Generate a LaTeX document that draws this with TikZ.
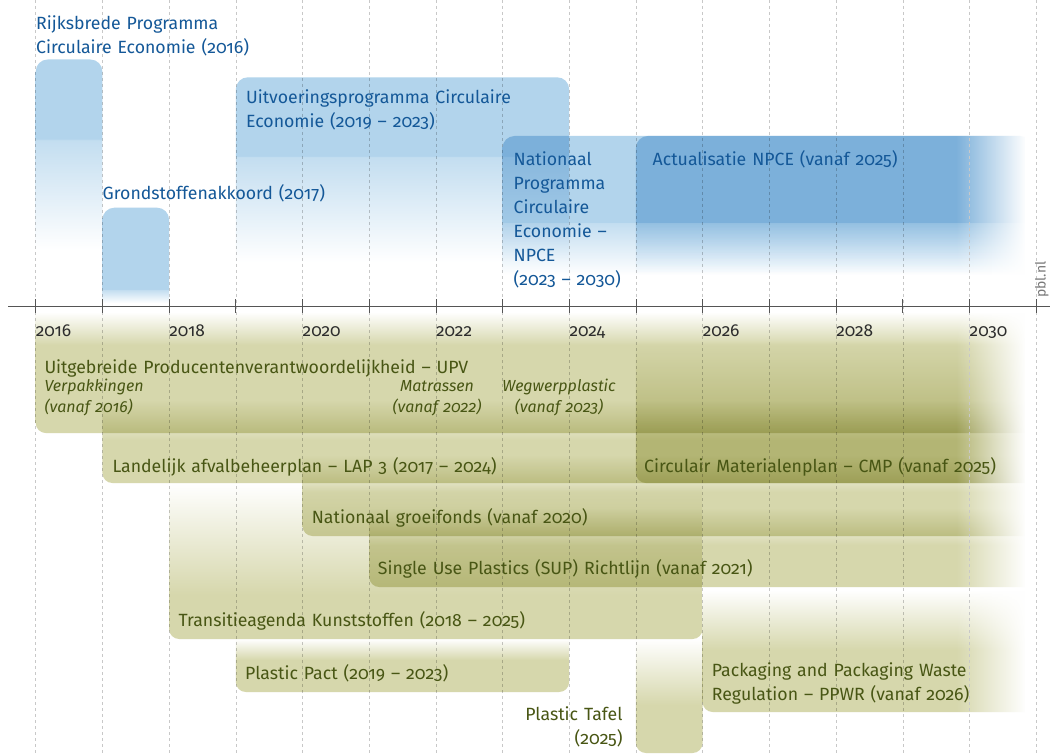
\documentclass[tikz,border=0pt]{standalone}
\usepackage{fontspec}
\setmainfont{Fira Sans}[Numbers=OldStyle]
\usetikzlibrary{fadings}
\tikzfading[name=fadeL, left color=transparent!100, right color=transparent!0]
\definecolor{bluefill}{RGB}{178,212,236}
\definecolor{bluetext}{RGB}{20,88,152}
\definecolor{greenfill}{RGB}{214,215,172}
\definecolor{greentext}{RGB}{72,86,20}
\definecolor{gridgrey}{RGB}{200,200,200}
\definecolor{axisgrey}{RGB}{85,85,85}
\definecolor{yeargrey}{RGB}{45,45,45}
\definecolor{pblgrey}{RGB}{120,120,120}

% green bar running on to the right: name, x1, ytop, ysolid, ybottom
\newcommand\GBarF[5]{%
  \pgfmathsetmacro\stopA{25+50*(#5-#4)/(#5-#3)}%
  \edef\tmpdecl{\noexpand\pgfdeclareverticalshading{#1}{100bp}{color(0bp)=(greenfill); color(\stopA bp)=(greenfill); color(75bp)=(white); color(100bp)=(white)}}\tmpdecl
  \shade[shading=#1, blend mode=multiply] (#2,#3) -- (1032,#3) -- (1032,#5) -- ({#2+10},#5)
     .. controls ({#2+4.5},#5) and (#2,{#5-4.5}) .. (#2,{#5-10}) -- cycle;
}
% green bar with an end: name, x1, x2, ytop, ysolid, ybottom
\newcommand\GBarE[6]{%
  \pgfmathsetmacro\stopA{25+50*(#6-#5)/(#6-#4)}%
  \edef\tmpdecl{\noexpand\pgfdeclareverticalshading{#1}{100bp}{color(0bp)=(greenfill); color(\stopA bp)=(greenfill); color(75bp)=(white); color(100bp)=(white)}}\tmpdecl
  \shade[shading=#1, blend mode=multiply] (#2,#4) -- (#3,#4) -- (#3,{#6-10})
     .. controls (#3,{#6-4.5}) and ({#3-4.5},#6) .. ({#3-10},#6)
     -- ({#2+10},#6) .. controls ({#2+4.5},#6) and (#2,{#6-4.5}) .. (#2,{#6-10}) -- cycle;
}
% blue box: name, x1, x2, ytop, ysolid, yend
\newcommand\BBox[6]{%
  \pgfmathsetmacro\stopA{25+50*(#6-#5)/(#6-#4)}%
  \pgfmathsetmacro\stopB{\stopA+0.3}%
  \edef\tmpdecl{\noexpand\pgfdeclareverticalshading{#1}{100bp}{color(0bp)=(white); color(25bp)=(white); color(\stopA bp)=(bluefill!78!white); color(\stopB bp)=(bluefill); color(100bp)=(bluefill)}}\tmpdecl
  \shade[shading=#1, blend mode=multiply] (#2,#6) -- (#2,{#4+12}) .. controls (#2,{#4+5.4}) and ({#2+5.4},#4) .. ({#2+12},#4)
     -- ({#3-12},#4) .. controls ({#3-5.4},#4) and (#3,{#4+5.4}) .. (#3,{#4+12}) -- (#3,#6) -- cycle;
}

\begin{document}
\begin{tikzpicture}[x=1pt,y=-1pt,
  gridline/.style={draw=gridgrey, line width=0.6pt, dash pattern=on 3pt off 3pt},
  axisline/.style={draw=axisgrey, line width=1pt},
  axistick/.style={draw=axisgrey, line width=0.8pt},
  yearlabel/.style={font=\fontsize{17.3}{20}\selectfont, text=yeargrey, inner sep=0, anchor=base west},
  btext/.style={font=\fontsize{17.7}{24}\selectfont, text=bluetext, inner sep=0, anchor=base west, align=left, text width=360pt},
  gtext/.style={font=\fontsize{17.7}{24}\selectfont, text=greentext, inner sep=0, anchor=base west, align=left, text width=460pt},
  gital/.style={font=\fontsize{16}{21}\selectfont\itshape, text=greentext, inner sep=0, text width=150pt},
]
\useasboundingbox (0,0) rectangle (1050,754);
\fill[white] (0,0) rectangle (1050,754);

% grid
\foreach \k in {0,...,15}
  \draw[gridline] ({35.7+66.7*\k},0) -- ({35.7+66.7*\k},754);

% blue programmes
\BBox{bRijks}{35.7}{102.4}{59.5}{140}{250}
\BBox{bGrond}{102.4}{169.1}{207.7}{290}{303}
\BBox{bUitv}{235.8}{569.2}{77.3}{157}{262}
\BBox{bNpce}{502.5}{1032}{136}{223}{275}
\BBox{bActu}{635.9}{1032}{136}{223}{275}

% green instruments
\GBarF{gUpv}{35.7}{312}{345}{433}
\GBarF{gLap}{102.4}{400}{440}{483}
\GBarF{gCmp}{635.9}{340}{433}{483}
\GBarF{gGroei}{302.5}{455}{492}{536}
\GBarF{gSup}{369.2}{508}{545}{587}
\GBarE{gTrans}{169.1}{702.6}{483}{595}{639}
\GBarE{gPact}{235.8}{569.2}{639}{660}{692}
\GBarF{gPpwr}{702.6}{590}{650}{712}
\GBarE{gTafel}{635.9}{702.6}{639}{705}{753}

% fade-out towards the right edge
\fill[white, path fading=fadeL] (956,120) rectangle (1026,754);
\fill[white] (1025,120) rectangle (1050,754);
\foreach \k in {14,15}
  \draw[gridline] ({35.7+66.7*\k},0) -- ({35.7+66.7*\k},754);

% axis
\draw[axisline] (8,306) -- (1050,306);
\foreach \k in {0,...,15}
  \draw[axistick] ({35.7+66.7*\k},299) -- ({35.7+66.7*\k},313);
\foreach \k/\yr in {0/2016,2/2018,4/2020,6/2022,8/2024,10/2026,12/2028,14/2030}
  \node[yearlabel] (y\yr) at ({35.7+66.7*\k},336) {\yr};

% blue labels
\node[btext] (rijks) at (36,30) {Rijksbrede Programma\\Circulaire Economie (2016)};
\node[btext] (grond) at (102.5,199.5) {Grondstoffenakkoord (2017)};
\node[btext] (uitv) at (246,103.3) {Uitvoeringsprogramma Circulaire\\Economie (2019 -- 2023)};
\node[btext] (npce) at (513.5,165.5) {Nationaal\\Programma\\Circulaire\\Economie --\\NPCE\\(2023 -- 2030)};
\node[btext] (actual) at (652.5,165.5) {Actualisatie NPCE (vanaf 2025)};

% green labels
\node[gtext] (upv) at (44.3,373) {Uitgebreide Producentenverantwoordelijkheid -- UPV};
\node[gital, anchor=base west, align=left] (verp) at (44.3,391.5) {Verpakkingen\\(vanaf 2016)};
\node[gital, anchor=base, align=center] (matr) at (437,391.5) {Matrassen\\(vanaf 2022)};
\node[gital, anchor=base, align=center] (wegw) at (559,391.5) {Wegwerpplastic\\(vanaf 2023)};
\node[gtext] (lap) at (112.3,472) {Landelijk afvalbeheerplan -- LAP 3 (2017 -- 2024)};
\node[gtext] (cmp) at (644,472) {Circulair Materialenplan -- CMP (vanaf 2025)};
\node[gtext] (groei) at (311.7,523) {Nationaal groeifonds (vanaf 2020)};
\node[gtext] (sup) at (377.7,574) {Single Use Plastics (SUP) Richtlijn (vanaf 2021)};
\node[gtext] (trans) at (178.3,626) {Transitieagenda Kunststoffen (2018 -- 2025)};
\node[gtext] (pact) at (245,679.3) {Plastic Pact (2019 -- 2023)};
\node[gtext, text width=330pt] (ppwr) at (711.7,676) {Packaging and Packaging Waste\\Regulation -- PPWR (vanaf 2026)};
\node[gtext, anchor=base east, align=right, text width=150pt] (tafel) at (622.7,720.7) {Plastic Tafel\\(2025)};

% source
\node[font=\fontsize{14}{17}\selectfont, text=pblgrey, inner sep=0, rotate=90, anchor=base west] (pbl) at (1045.5,298) {pbl.nl};
\end{tikzpicture}
\end{document}
